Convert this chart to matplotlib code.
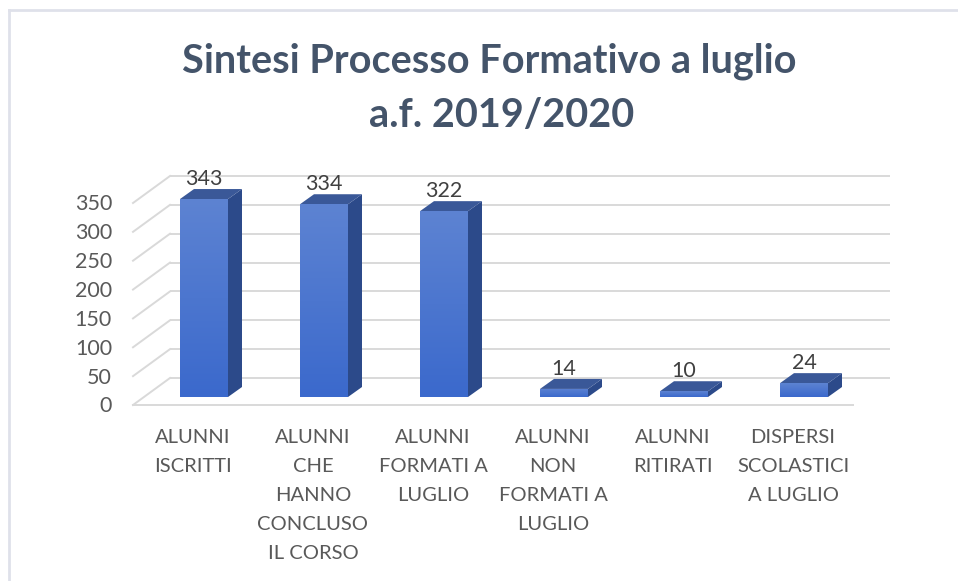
import numpy as np
import matplotlib
matplotlib.use("Agg")
import matplotlib.pyplot as plt
from matplotlib.transforms import ScaledTranslation
from matplotlib.patches import Polygon
from matplotlib.colors import LinearSegmentedColormap

# ---------------- data ----------------
categories = [
    "ALUNNI\nISCRITTI",
    "ALUNNI\nCHE\nHANNO\nCONCLUSO\nIL CORSO",
    "ALUNNI\nFORMATI A\nLUGLIO",
    "ALUNNI\nNON\nFORMATI A\nLUGLIO",
    "ALUNNI\nRITIRATI",
    "DISPERSI\nSCOLASTICI\nA LUGLIO",
]
values = [343, 334, 322, 14, 10, 24]
yticks = [0, 50, 100, 150, 200, 250, 300, 350]
title_lines = ["Sintesi Processo Formativo a luglio", "a.f. 2019/2020"]

# ---------------- style ----------------
FONT = "Lato"
TITLE_COLOR = "#44546a"
LABEL_COLOR = "#595959"
VALUE_COLOR = "#404040"
GRID_COLOR = "#d9d9d9"
FRONT_TOP, FRONT_BOT = "#5d83d2", "#3b69cc"
SIDE_COLOR = "#2c4a8a"
TOP_COLOR = "#3a5898"

W, H, DPI = 958, 581, 100
fig = plt.figure(figsize=(W / DPI, H / DPI), dpi=DPI)
fig.patch.set_facecolor("white")

# axes = plane of the bars' front faces
ax = fig.add_axes([144 / W, 184 / H, 720 / W, 202 / H])
ax.set_xlim(-0.5, len(values) - 0.5)
ax.set_ylim(0, 350)
ax.axis("off")

def px_delta(dx, dy):
    o = ax.transData.transform((0, 0))
    p = ax.transData.inverted().transform(o + np.array([dx, dy]))
    return p[0], p[1]

FRONT = px_delta(-11, -8)   # front plane of the floor
BACK = px_delta(26, 19)     # back wall
DEPTH = px_delta(14, 10)    # bar depth
x0, x1 = -0.5, len(values) - 0.5

# back wall gridlines and side wall slanted lines
for t in yticks:
    ax.plot([x0 + BACK[0], x1 + BACK[0]], [t + BACK[1]] * 2, color=GRID_COLOR,
            lw=1.4, clip_on=False, zorder=1, solid_capstyle="butt")
    ax.plot([x0 + FRONT[0], x0 + BACK[0]], [t + FRONT[1], t + BACK[1]],
            color=GRID_COLOR, lw=1.4, clip_on=False, zorder=1)
# floor front edge
ax.plot([x0 + FRONT[0], x1 + FRONT[0]], [FRONT[1]] * 2, color=GRID_COLOR,
        lw=1.4, clip_on=False, zorder=1)

# bars
xs = np.arange(len(values))
bw = 0.4
bars = ax.bar(xs, values, width=bw, color="none", edgecolor="none", zorder=3)
cmap = LinearSegmentedColormap.from_list("g", [FRONT_BOT, FRONT_TOP])
grad = np.linspace(0, 1, 256).reshape(-1, 1)
for rect, v in zip(bars, values):
    xl = rect.get_x()
    xr = xl + rect.get_width()
    # side face
    ax.add_patch(Polygon([(xr, 0), (xr, v), (xr + DEPTH[0], v + DEPTH[1]),
                          (xr + DEPTH[0], DEPTH[1])], closed=True,
                         facecolor=SIDE_COLOR, edgecolor="none", zorder=2.5,
                         clip_on=False))
    # top face
    ax.add_patch(Polygon([(xl, v), (xr, v), (xr + DEPTH[0], v + DEPTH[1]),
                          (xl + DEPTH[0], v + DEPTH[1])], closed=True,
                         facecolor=TOP_COLOR, edgecolor="none", zorder=2.5,
                         clip_on=False))
    # front face with gradient
    im = ax.imshow(grad, cmap=cmap, aspect="auto", origin="lower",
                   extent=(xl, xr, 0, v), zorder=3, interpolation="bilinear")
    im.set_clip_path(rect)
    rect.set_clip_on(False)
    ax.text(rect.get_x() + rect.get_width() / 2, v + DEPTH[1], f"{v}",
            ha="center", va="baseline", fontsize=15.5, family=FONT,
            color=VALUE_COLOR, zorder=5,
            transform=ax.transData + ScaledTranslation(0, 4 / DPI, fig.dpi_scale_trans))
ax.set_xlim(x0, x1)
ax.set_ylim(0, 350)

# y tick labels (front plane)
for t in yticks:
    ax.text(x0 + FRONT[0], t + FRONT[1], f"{t}", ha="right", va="baseline",
            fontsize=15.5, family=FONT, color=LABEL_COLOR,
            transform=ax.transData + ScaledTranslation(-21 / DPI, -7.5 / DPI, fig.dpi_scale_trans))

# category labels
for x, lab in zip(xs, categories):
    ax.text(x + FRONT[0], FRONT[1], lab, ha="center", va="top", multialignment="center",
            fontsize=14.5, family=FONT, color=LABEL_COLOR, linespacing=1.85,
            transform=ax.transData + ScaledTranslation(0, -24 / DPI, fig.dpi_scale_trans))

# title
fig.text(489 / W, 1 - 73 / H, title_lines[0], ha="center", va="baseline",
         fontsize=28.5, fontweight="bold", family=FONT, color=TITLE_COLOR)
fig.text(502 / W, 1 - 127 / H, title_lines[1], ha="center", va="baseline",
         fontsize=28.5, fontweight="bold", family=FONT, color=TITLE_COLOR)

# chart frame lines (top and left)
fig.add_artist(plt.Line2D([9 / W, 1], [1 - 10 / H] * 2, color="#dfe1ea", lw=2))
fig.add_artist(plt.Line2D([9 / W] * 2, [0, 1 - 10 / H], color="#dfe1ea", lw=2))

fig.savefig("out.png", dpi=DPI, facecolor="white")
